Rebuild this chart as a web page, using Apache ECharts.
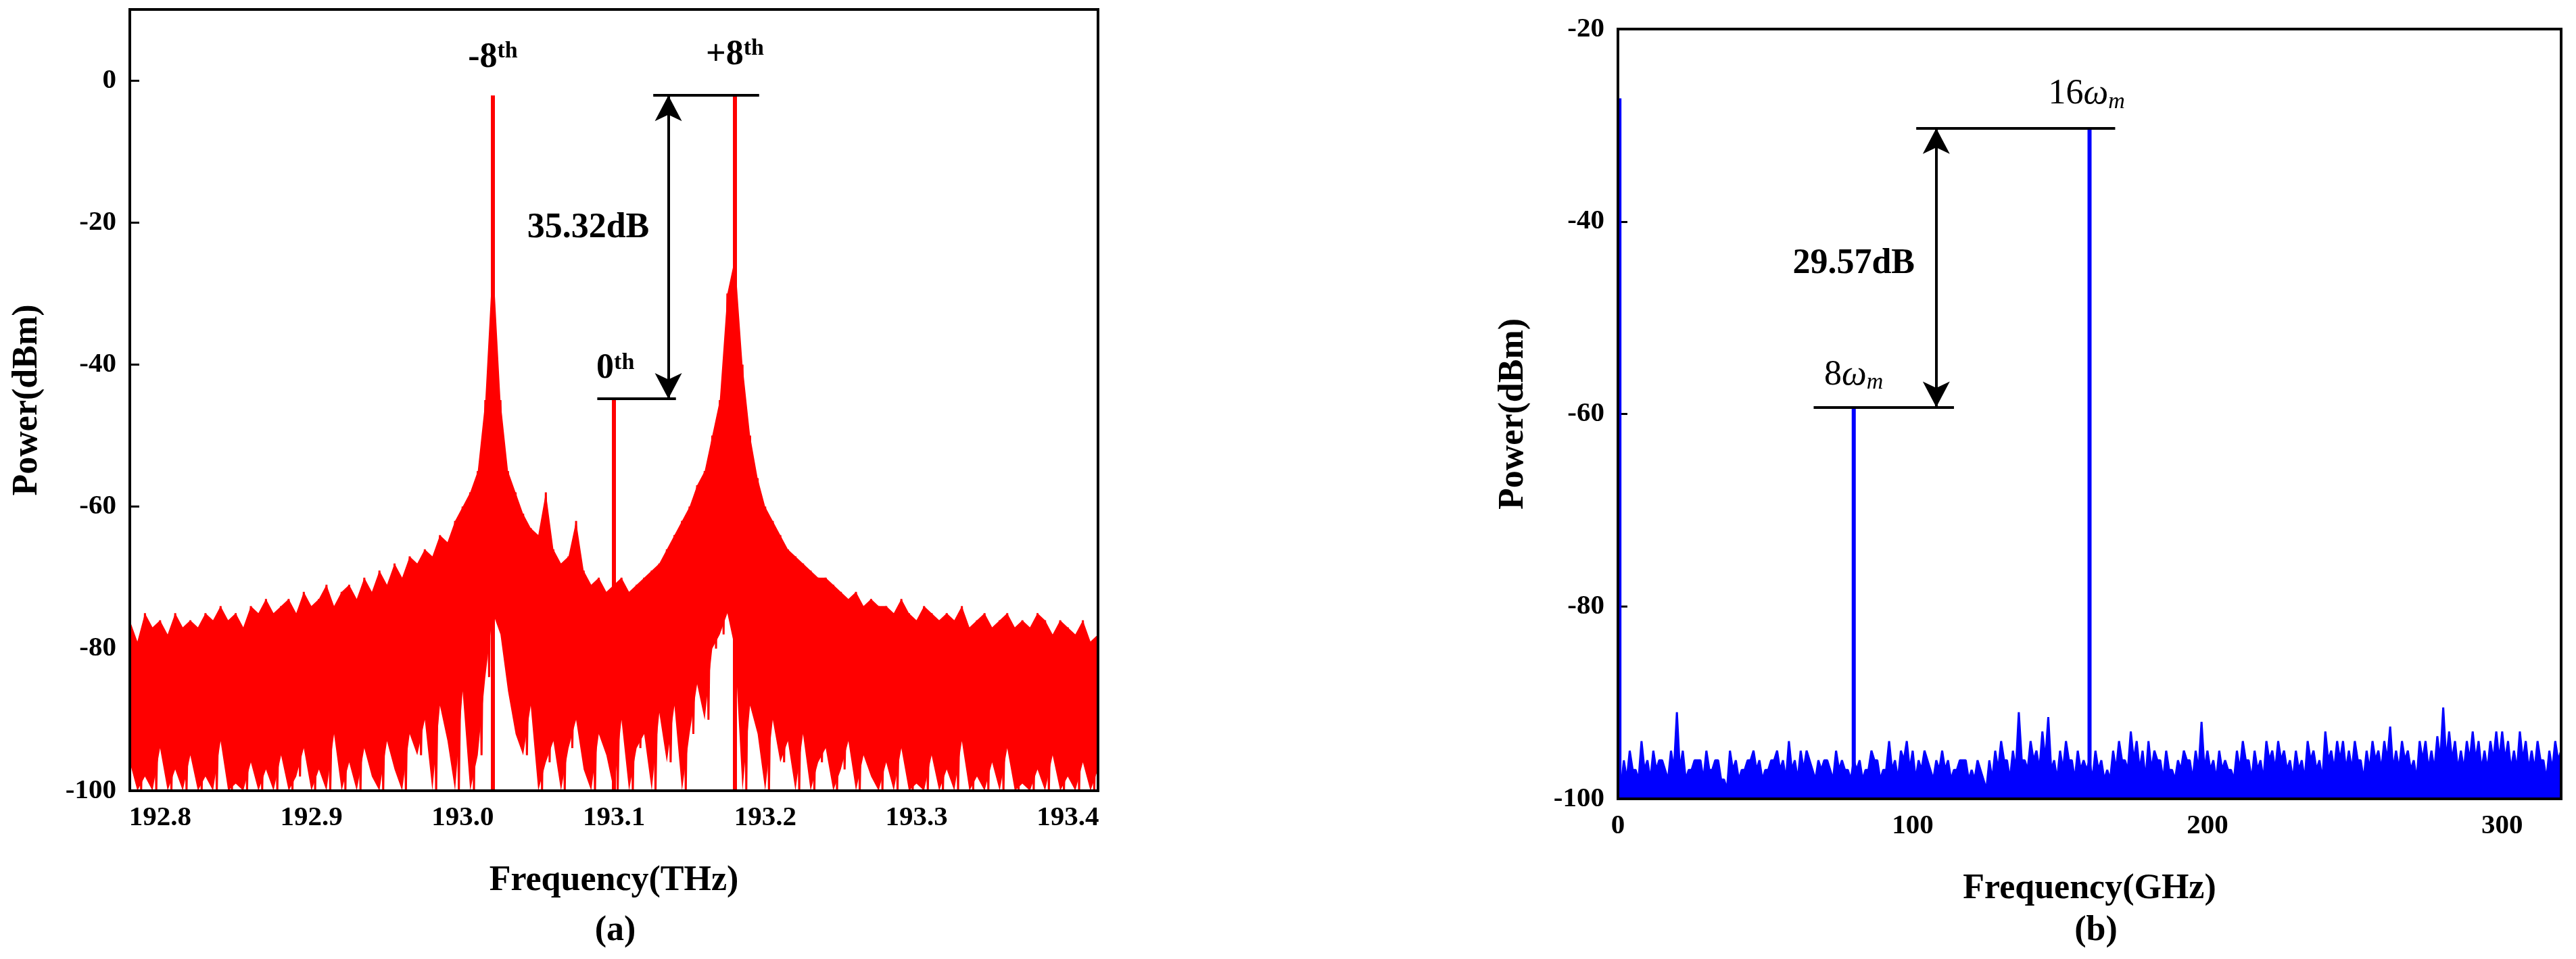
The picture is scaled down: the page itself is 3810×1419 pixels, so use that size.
<!DOCTYPE html>
<html><head><meta charset="utf-8">
<script src="https://cdn.jsdelivr.net/npm/echarts@6/dist/echarts.min.js"></script>
<style>html,body{margin:0;padding:0;background:#fff}#c{width:3810px;height:1419px}</style>
</head><body><div id="c"></div>
<script>
// ---- Data (a) : optical spectrum, sampled every 0.005 THz from 192.775 THz
const aStart = 192.775, aStep = 0.005;
const aUpper = [-78,-76,-79,-75,-77,-76,-78,-75,-77,-76,
 -77,-75,-76,-74,-76,-75,-77,-74,-75,-73,
 -75,-74,-73,-75,-72,-74,-73,-71,-74,-72,
 -71,-73,-70,-72,-69,-71,-68,-70,-67,-68,
 -66,-67,-64,-65,-62,-60,-58,-55,-45,-25,
 -45,-55,-58,-61,-63,-64,-58,-66,-68,-67,
 -62,-69,-71,-70,-72,-71,-70,-72,-71,-70,
 -69,-68,-66,-64,-62,-60,-57,-55,-50,-45,
 -30,-25,-40,-50,-56,-60,-62,-64,-66,-67,
 -68,-69,-70,-70,-71,-72,-73,-72,-74,-73,
 -74,-74,-75,-73,-75,-76,-74,-75,-76,-75,
 -76,-74,-77,-76,-75,-77,-76,-75,-77,-76,
 -77,-75,-76,-78,-76,-77,-78,-76,-79,-78];
const aLower = [-100,-96,-100,-98,-100,-94,-100,-97,-100,-95,
 -100,-98,-100,-93,-100,-99,-100,-96,-100,-97,
 -100,-95,-100,-98,-94,-100,-97,-100,-92,-100,
 -96,-100,-94,-98,-100,-93,-97,-100,-92,-95,
 -90,-100,-88,-93,-100,-86,-100,-95,-84,-75,
 -78,-86,-92,-95,-88,-100,-96,-93,-100,-94,
 -90,-97,-100,-92,-95,-100,-90,-100,-94,-92,
 -100,-89,-96,-88,-100,-92,-85,-90,-80,-78,
 -75,-80,-100,-88,-92,-100,-90,-96,-93,-100,
 -92,-100,-96,-94,-100,-97,-93,-100,-95,-98,
 -100,-96,-100,-94,-100,-99,-100,-95,-100,-97,
 -100,-93,-100,-98,-100,-96,-100,-94,-100,-99,
 -100,-97,-100,-95,-100,-98,-100,-96,-100,-97];
const aPeaks = [[193.02,-2.1],[193.18,-2.1],[193.1,-44.8]];
const aTicks = [192.8,192.9,193.0,193.1,193.2,193.3,193.4];

// ---- Data (b) : electrical spectrum, every 2 GHz from 0
const bStart = 0, bStep = 2;
const bNoise = [-98,-96,-95,-97,-94,-96,-95,-96,-97,-95,
 -91,-95,-97,-96,-96,-95,-97,-96,-98,-95,
 -96,-97,-96,-95,-96,-97,-96,-95,-96,-94,
 -96,-95,-95,-97,-96,-96,-97,-95,-96,-97,
 -96,-96,-97,-95,-96,-97,-94,-96,-95,-94,
 -95,-96,-95,-97,-96,-95,-96,-97,-96,-96,
 -97,-96,-98,-96,-95,-94,-96,-95,-91,-96,
 -94,-95,-93,-91.5,-96,-95,-94,-96,-95,-96,
 -96,-95,-96,-97,-95,-94,-96,-93,-94,-95,
 -94,-95,-96,-95,-97,-96,-95,-96,-95,-92,
 -95,-96,-95,-96,-97,-95,-94,-96,-95,-96,
 -94,-95,-94,-95,-96,-95,-96,-94,-95,-96,
 -93,-95,-94,-94,-95,-94,-96,-95,-94,-95,
 -94,-92.5,-95,-94,-95,-96,-94,-94,-95,-93.5,
 -90.5,-93,-94,-95,-94,-93,-94,-95,-94,-93,
 -93,-94,-95,-93,-94,-95,-94,-96,-95,-94,
 -95];
const bLower = [-99,-98,-97,-98,-97,-98,-97,-96,-98,-97,
 -97,-98,-97,-96,-98,-97,-96,-98,-99,-97,
 -98,-97,-96,-97,-98,-97,-96,-97,-98,-97,
 -98,-97,-96,-98,-97,-96,-98,-97,-97,-98,
 -97,-98,-97,-96,-98,-97,-97,-98,-96,-97,
 -98,-97,-96,-98,-97,-97,-98,-97,-96,-98,
 -98,-97,-99,-98,-97,-96,-98,-97,-96,-97,
 -96,-97,-96,-97,-98,-97,-96,-98,-97,-97,
 -98,-97,-98,-98,-97,-96,-97,-96,-97,-98,
 -97,-96,-98,-97,-98,-97,-96,-98,-97,-97,
 -97,-98,-97,-97,-98,-97,-96,-98,-97,-98,
 -96,-97,-96,-97,-98,-97,-98,-96,-97,-98,
 -96,-97,-96,-97,-97,-96,-98,-97,-96,-97,
 -96,-97,-97,-96,-97,-98,-96,-97,-97,-96,
 -96,-96,-97,-97,-96,-96,-97,-97,-96,-96,
 -96,-97,-97,-96,-97,-97,-96,-98,-97,-96,
 -97];
const bPeaks = [[0.5,-27.2],[80,-59.3],[160,-30.3]];

// ---- build
const aLine = [], aUp = [], aLow = [];
aUpper.forEach((u,i)=>{const x=aStart+i*aStep; aLine.push([x,u]); aLine.push([x+aStep/2,aLower[i]]);
  aUp.push([x,u]); aLow.push([x,aLower[i]]);});
const bLine = [];
bNoise.forEach((v,i)=>{const x=bStart+i*bStep; bLine.push([x,v]); if(i<bNoise.length-1) bLine.push([x+bStep/2,bLower[i]]);});
function spikeData(p, base){const d=[];p.forEach(q=>{d.push([q[0],base]);d.push(q);d.push([q[0],null]);});return d;}

const F = 'Liberation Serif';
const tickLab = {fontFamily:F,fontWeight:'bold',fontSize:41,color:'#000',margin:20,showMaxLabel:false};
const tickLabY = Object.assign({},tickLab,{showMaxLabel:true});
const axLine = {show:true,onZero:false,lineStyle:{color:'#000',width:4}};
const axTick = {inside:true,length:14,lineStyle:{color:'#000',width:3}};
const nameSt = {fontFamily:F,fontWeight:'bold',fontSize:52,color:'#000'};
const blackLine = {color:'#000',width:4,type:'solid'};

function label(fmt, x, y, rich){return {coord:[x,y],symbol:'circle',symbolSize:0,label:{show:true,position:'inside',formatter:fmt,rich:rich}};}
const richB = {a:{fontFamily:F,fontWeight:'bold',fontSize:52,color:'#000'},s:{fontFamily:F,fontWeight:'bold',fontSize:34,color:'#000',verticalAlign:'top'}};
const richW = {n:{fontFamily:F,fontSize:52,color:'#000'},w:{fontFamily:F,fontStyle:'italic',fontSize:52,color:'#000'},m:{fontFamily:F,fontStyle:'italic',fontSize:34,color:'#000',verticalAlign:'bottom',padding:[22,0,0,0]}};

const option = {
 animation:false,
 backgroundColor:'#fff',
 grid:[{left:192,top:14,width:1432,height:1156},{left:2393,top:43,width:1395,height:1139}],
 xAxis:[
  {gridIndex:0,type:'value',min:192.78,max:193.42,
   name:'Frequency(THz)',nameLocation:'middle',nameGap:108,nameTextStyle:nameSt,
   axisLine:axLine,axisTick:Object.assign({customValues:aTicks},axTick),
   axisLabel:Object.assign({},tickLabY,{customValues:aTicks,formatter:v=>v.toFixed(1)}),splitLine:{show:false}},
  {gridIndex:1,type:'value',min:0,max:320,interval:100,
   name:'Frequency(GHz)',nameLocation:'middle',nameGap:108,nameTextStyle:nameSt,
   axisLine:axLine,axisTick:axTick,axisLabel:tickLab,splitLine:{show:false}}
 ],
 yAxis:[
  {gridIndex:0,type:'value',min:-100,max:10,interval:20,
   name:'Power(dBm)',nameLocation:'middle',nameGap:125,nameTextStyle:nameSt,
   axisLine:axLine,axisTick:axTick,axisLabel:tickLab,splitLine:{show:false}},
  {gridIndex:1,type:'value',min:-100,max:-20,interval:20,
   name:'Power(dBm)',nameLocation:'middle',nameGap:128,nameTextStyle:nameSt,
   axisLine:axLine,axisTick:axTick,axisLabel:tickLabY,splitLine:{show:false}}
 ],
 series:[
  {type:'line',xAxisIndex:0,yAxisIndex:0,data:aUp,showSymbol:false,lineStyle:{width:0,opacity:0},areaStyle:{color:'#ff0000',opacity:1,origin:'start'},z:1},
  {type:'line',xAxisIndex:0,yAxisIndex:0,data:aLow,showSymbol:false,lineStyle:{width:0,opacity:0},areaStyle:{color:'#ffffff',opacity:1,origin:'start'},z:1},
  {type:'line',xAxisIndex:0,yAxisIndex:0,data:aLine,showSymbol:false,lineStyle:{color:'#ff0000',width:3},z:2},
  {type:'line',xAxisIndex:0,yAxisIndex:0,data:spikeData(aPeaks,-100),showSymbol:false,connectNulls:false,lineStyle:{color:'#ff0000',width:6},z:3,
   markLine:{silent:true,symbol:'none',lineStyle:blackLine,label:{show:false},data:[
     [{coord:[193.126,-2.1]},{coord:[193.196,-2.1]}],
     [{coord:[193.089,-44.8]},{coord:[193.141,-44.8]}]]},
   markPoint:{silent:true,data:[
     label('{a|-8}{s|th}',193.02,3.2,richB),
     label('{a|+8}{s|th}',193.18,3.6,richB),
     label('{a|0}{s|th}',193.101,-40.6,richB),
     label('{a|35.32dB}',193.083,-20.8,richB)]}},
  {type:'line',xAxisIndex:0,yAxisIndex:0,data:[],
   markLine:{silent:true,symbol:['arrow','arrow'],symbolSize:[30,38],lineStyle:blackLine,label:{show:false},data:[
     [{coord:[193.136,-2.1]},{coord:[193.136,-44.8]}]]}},
  {type:'line',xAxisIndex:1,yAxisIndex:1,data:bLine,showSymbol:false,lineStyle:{color:'#0000ff',width:3},areaStyle:{color:'#0000ff',opacity:1,origin:'start'},z:2},
  {type:'line',xAxisIndex:1,yAxisIndex:1,data:spikeData(bPeaks,-100),showSymbol:false,connectNulls:false,lineStyle:{color:'#0000ff',width:6},z:3,
   markLine:{silent:true,symbol:'none',lineStyle:blackLine,label:{show:false},data:[
     [{coord:[101.2,-30.3]},{coord:[168.7,-30.3]}],
     [{coord:[66.4,-59.3]},{coord:[114,-59.3]}]]},
   markPoint:{silent:true,data:[
     label('{n|16}{w|ω}{m|m}',159,-26.8,richW),
     label('{n|8}{w|ω}{m|m}',80,-56,richW),
     label('{a|29.57dB}',80,-44.4,richB)]}},
  {type:'line',xAxisIndex:1,yAxisIndex:1,data:[],
   markLine:{silent:true,symbol:['arrow','arrow'],symbolSize:[30,38],lineStyle:blackLine,label:{show:false},data:[
     [{coord:[108,-30.3]},{coord:[108,-59.3]}]]}}
 ],
 graphic:[
  {type:'rect',shape:{x:192,y:14,width:1432,height:1156},style:{fill:null,stroke:'#000',lineWidth:4},z:100},
  {type:'rect',shape:{x:2393,y:43,width:1395,height:1139},style:{fill:null,stroke:'#000',lineWidth:4},z:100},
  {type:'text',x:910,y:1378,style:{text:'(a)',font:'bold 52px "Liberation Serif"',fill:'#000',textAlign:'center',textVerticalAlign:'middle'}},
  {type:'text',x:3100,y:1378,style:{text:'(b)',font:'bold 52px "Liberation Serif"',fill:'#000',textAlign:'center',textVerticalAlign:'middle'}}
 ]
};
echarts.init(document.getElementById('c')).setOption(option);
</script></body></html>
